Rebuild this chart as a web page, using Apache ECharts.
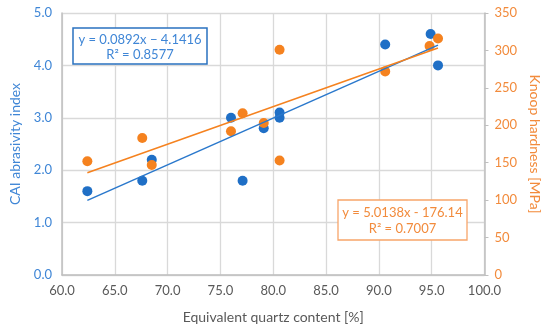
<!DOCTYPE html>
<html><head><meta charset="utf-8">
<script src="https://cdn.jsdelivr.net/npm/echarts@6/dist/echarts.min.js"></script>
<style>html,body{margin:0;padding:0;background:#fff}#c{width:550px;height:331px}</style>
</head><body><div id="c"></div>
<script>
const quartz = [62.4, 67.6, 68.5, 76.0, 77.1, 79.1, 80.6, 80.6, 90.6, 94.9, 95.6];
const cai = [1.6, 1.8, 2.2, 3.0, 1.8, 2.8, 3.0, 3.1, 4.4, 4.6, 4.0];
const quartzK = [62.4, 67.6, 68.5, 76.0, 77.1, 79.1, 80.6, 80.6, 90.6, 94.8, 95.6];
const knoop = [152, 183, 147, 192, 216, 203, 301, 153, 272, 306, 316];
const caiTrendX = [62.4, 95.6];
const caiTrendY = [1.424, 4.386];
const knoopTrendX = [62.4, 95.6];
const knoopTrendY = [136.7, 303.2];
const caiEq = ['y = 0.0892x − 4.1416', 'R² = 0.8577'];
const knoopEq = ['y = 5.0138x - 176.14', 'R² = 0.7007'];

const BLUE = '#1F6FC6', BLUE_T = '#3F86D6', ORANGE = '#F5821F', ORANGE_T = '#F28B3C';
const FONT = 'Lato';
const zip = (a, b) => a.map((v, i) => [v, b[i]]);
const chart = echarts.init(document.getElementById('c'));
chart.setOption({
  animation: false,
  textStyle: { fontFamily: FONT },
  grid: { left: 59, right: 62, top: 13, bottom: 56 },
  xAxis: {
    type: 'value', min: 60, max: 100, interval: 5,
    name: 'Equivalent quartz content [%]', nameLocation: 'middle', nameGap: 35,
    nameTextStyle: { color: '#595959', fontSize: 14, fontFamily: FONT },
    axisLabel: { color: '#595959', fontSize: 13, formatter: v => v.toFixed(1), margin: 9 },
    axisLine: { lineStyle: { color: '#BFBFBF', width: 1.5 } },
    axisTick: { show: false },
    splitLine: { lineStyle: { color: '#D9D9D9', width: 1.3 } }
  },
  yAxis: [{
    type: 'value', min: 0, max: 5, interval: 1,
    name: 'CAI abrasivity index', nameLocation: 'middle', nameGap: 40, nameRotate: 90,
    nameTextStyle: { color: BLUE_T, fontSize: 14, fontFamily: FONT },
    axisLabel: { color: BLUE_T, fontSize: 13, formatter: v => v.toFixed(1), margin: 10 },
    axisLine: { show: true, lineStyle: { color: '#BFBFBF', width: 1.5 } },
    axisTick: { show: false },
    splitLine: { lineStyle: { color: '#D9D9D9', width: 1.3 } }
  }, {
    type: 'value', min: 0, max: 350, interval: 50, position: 'right',
    name: 'Knoop hardness [MPa]', nameLocation: 'middle', nameGap: 43, nameRotate: -90,
    nameTextStyle: { color: ORANGE_T, fontSize: 14, fontFamily: FONT },
    axisLabel: { color: ORANGE_T, fontSize: 13, margin: 10 },
    axisLine: { show: true, lineStyle: { color: '#BFBFBF', width: 1.5 } },
    axisTick: { show: true, length: 4, lineStyle: { color: '#BFBFBF' } },
    splitLine: { show: false }
  }],
  series: [
    { type: 'scatter', yAxisIndex: 0, data: zip(quartz, cai), symbolSize: 10, itemStyle: { color: BLUE, opacity: 1 }, z: 3 },
    { type: 'scatter', yAxisIndex: 1, data: zip(quartzK, knoop), symbolSize: 10, itemStyle: { color: ORANGE, opacity: 1 }, z: 3 },
    { type: 'line', yAxisIndex: 0, data: zip(caiTrendX, caiTrendY), symbol: 'none', lineStyle: { color: '#2A78CC', width: 1.5 }, z: 4 },
    { type: 'line', yAxisIndex: 1, data: zip(knoopTrendX, knoopTrendY), symbol: 'none', lineStyle: { color: ORANGE, width: 1.5 }, z: 4 }
  ],
  graphic: [
    { type: 'rect', shape: { x: 73, y: 28, width: 134, height: 36 }, style: { fill: '#fff', stroke: '#2A72C0', lineWidth: 1.5 }, z: 10 },
    { type: 'text', x: 140, y: 40, style: { text: caiEq[0], fill: BLUE_T, font: '13px ' + FONT, textAlign: 'center', textVerticalAlign: 'middle' }, z: 11 },
    { type: 'text', x: 140, y: 55, style: { text: caiEq[1], fill: BLUE_T, font: '13px ' + FONT, textAlign: 'center', textVerticalAlign: 'middle' }, z: 11 },
    { type: 'rect', shape: { x: 338, y: 200, width: 129, height: 40 }, style: { fill: '#fff', stroke: '#F7A56A', lineWidth: 1.3 }, z: 10 },
    { type: 'text', x: 402.5, y: 213, style: { text: knoopEq[0], fill: ORANGE_T, font: '13px ' + FONT, textAlign: 'center', textVerticalAlign: 'middle' }, z: 11 },
    { type: 'text', x: 402.5, y: 229, style: { text: knoopEq[1], fill: ORANGE_T, font: '13px ' + FONT, textAlign: 'center', textVerticalAlign: 'middle' }, z: 11 }
  ]
});
</script></body></html>
